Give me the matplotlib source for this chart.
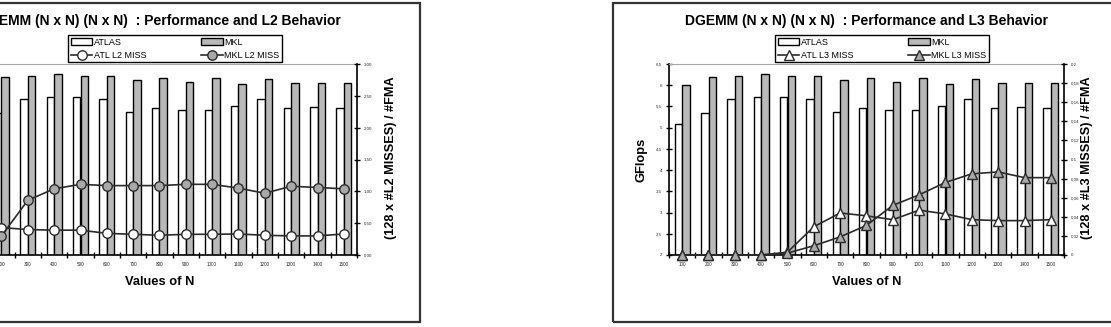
import numpy as np
import matplotlib.pyplot as plt
from matplotlib.patches import Rectangle

plt.rcParams['font.family'] = ['Liberation Sans', 'DejaVu Sans']

# data
sizes = [100, 200, 300, 400, 500, 600, 700, 800, 900, 1000, 1100, 1200, 1300, 1400, 1500]
atlas_gflops = [5.09, 5.34, 5.67, 5.72, 5.73, 5.67, 5.36, 5.46, 5.42, 5.42, 5.52, 5.68, 5.46, 5.48, 5.46]
mkl_gflops = [6.00, 6.19, 6.22, 6.26, 6.22, 6.22, 6.12, 6.16, 6.07, 6.16, 6.02, 6.15, 6.05, 6.05, 6.05]
atl_l2_miss = [0.45, 0.43, 0.40, 0.39, 0.39, 0.34, 0.325, 0.31, 0.325, 0.325, 0.33, 0.31, 0.30, 0.30, 0.33]
mkl_l2_miss = [0.15, 0.30, 0.86, 1.04, 1.11, 1.09, 1.09, 1.09, 1.11, 1.11, 1.05, 0.97, 1.08, 1.06, 1.04]
atl_l3_miss = [0, 0, 0, 0, 0.003, 0.0296, 0.044, 0.041, 0.037, 0.047, 0.043, 0.037, 0.036, 0.036, 0.037]
mkl_l3_miss = [0, 0, 0, 0, 0.002, 0.0097, 0.019, 0.031, 0.052, 0.063, 0.076, 0.085, 0.087, 0.081, 0.081]

gflops_ticks = [2, 2.5, 3, 3.5, 4, 4.5, 5, 5.5, 6, 6.5]
l2_ticks = [0, 0.5, 1, 1.5, 2, 2.5, 3]
l3_ticks = [0, 0.02, 0.04, 0.06, 0.08, 0.1, 0.12, 0.14, 0.16, 0.18, 0.2]

W, H = 1111, 327
GRAY = "#b9b9b9"
DARK = "#2b2b2b"


def px(x0, y0, w, h):
    # pixel box (top-left origin) -> figure fraction
    return [x0 / W, 1 - (y0 + h) / H, w / W, h / H]


def comma(v, fmt):
    return (fmt % v).replace(".", ",")


def draw_panel(fig, left, level, miss_atl, miss_mkl, rticks, rfmt, marker, rlim, rlabel_x):
    ax = fig.add_axes(px(left, 64, 395, 191))
    x = np.arange(len(sizes))
    w = 0.285
    b1 = ax.bar(x - w / 2, atlas_gflops, w, color="white", edgecolor="black", linewidth=1.0)
    b2 = ax.bar(x + w / 2, mkl_gflops, w, color=GRAY, edgecolor="black", linewidth=1.0)
    ax.set_xlim(-0.5, len(sizes) - 0.5)
    ax.set_ylim(2, 6.5)
    ax.set_yticks(gflops_ticks)
    ax.set_yticklabels([comma(v, "%g") for v in gflops_ticks])
    ax.set_xticks(np.arange(len(sizes) + 1) - 0.5)
    ax.set_xticklabels([])
    ax.set_xticks(x, minor=True)
    ax.set_xticklabels([str(s) for s in sizes], minor=True)
    ax.tick_params(axis="x", which="major", direction="inout", length=5, width=1)
    ax.tick_params(axis="x", which="minor", length=0, labelsize=3.3, colors=DARK, pad=5)
    ax.tick_params(axis="y", direction="inout", length=5, width=1, labelsize=3.2, colors="black",
                   labelcolor=DARK, pad=2.5)
    for s in ["left", "bottom"]:
        ax.spines[s].set_linewidth(1.2)
    ax.spines["top"].set_color("#a8a8a8")
    ax.spines["right"].set_visible(False)

    ax2 = ax.twinx()
    l1, = ax2.plot(x, miss_atl, color=DARK, lw=1.2, marker=marker, ms=6.8,
                   mfc="white", mec=DARK, mew=1.0)
    l2, = ax2.plot(x, miss_mkl, color=DARK, lw=1.2, marker=marker, ms=6.8,
                   mfc="#a9a9a9", mec=DARK, mew=1.0)
    for ln in (l1, l2):
        ln.set_clip_on(False)
    ax2.set_ylim(*rlim)
    ax2.set_yticks(rticks)
    ax2.set_yticklabels([comma(v, rfmt) for v in rticks])
    ax2.tick_params(axis="y", direction="inout", length=5, width=1, labelsize=3.2,
                    labelcolor=DARK, pad=2.5)
    ax2.spines["right"].set_linewidth(1.2)
    for s in ["top", "left", "bottom"]:
        ax2.spines[s].set_visible(False)

    cx = left + 395 / 2
    fig.text(cx / W, 1 - 21 / H, "DGEMM (N x N) (N x N)  : Performance and %s Behavior" % level,
             ha="center", va="center", fontsize=10, fontweight="bold")
    fig.text(cx / W, 1 - 282 / H, "Values of N", ha="center", va="center",
             fontsize=9.3, fontweight="bold")
    fig.text((left - 27) / W, 1 - 160 / H, "GFlops", ha="center", va="center",
             rotation=90, fontsize=9.3, fontweight="bold")
    fig.text(rlabel_x / W, 1 - 158 / H, "(128 x #%s MISSES) / #FMA" % level,
             ha="center", va="center", rotation=90, fontsize=9.2, fontweight="bold")

    fig.legend([b1, l1, b2, l2],
               ["ATLAS", "ATL %s MISS" % level, "MKL", "MKL %s MISS" % level],
               ncol=2, loc="upper left", bbox_to_anchor=((left + 106) / W, 1 - 35 / H),
               fontsize=6.5, frameon=True, fancybox=False, edgecolor="black",
               framealpha=1, borderpad=0.3, labelspacing=0.45, handlelength=2.4,
               handletextpad=0.2, columnspacing=6.0, borderaxespad=0)

    # outer chart frame
    fig.add_artist(Rectangle(((left - 56) / W, 1 - 322 / H), 514 / W, 319 / H,
                             transform=fig.transFigure, fill=False,
                             edgecolor="#333333", linewidth=1.6))


fig = plt.figure(figsize=(W / 100, H / 100), dpi=100)
draw_panel(fig, -38, "L2", atl_l2_miss, mkl_l2_miss, l2_ticks, "%.2f", "o", (0, 3), 391)
draw_panel(fig, 669, "L3", atl_l3_miss, mkl_l3_miss, l3_ticks, "%g", "^", (0, 0.2), 1087)

plt.savefig("out.png", dpi=100)
